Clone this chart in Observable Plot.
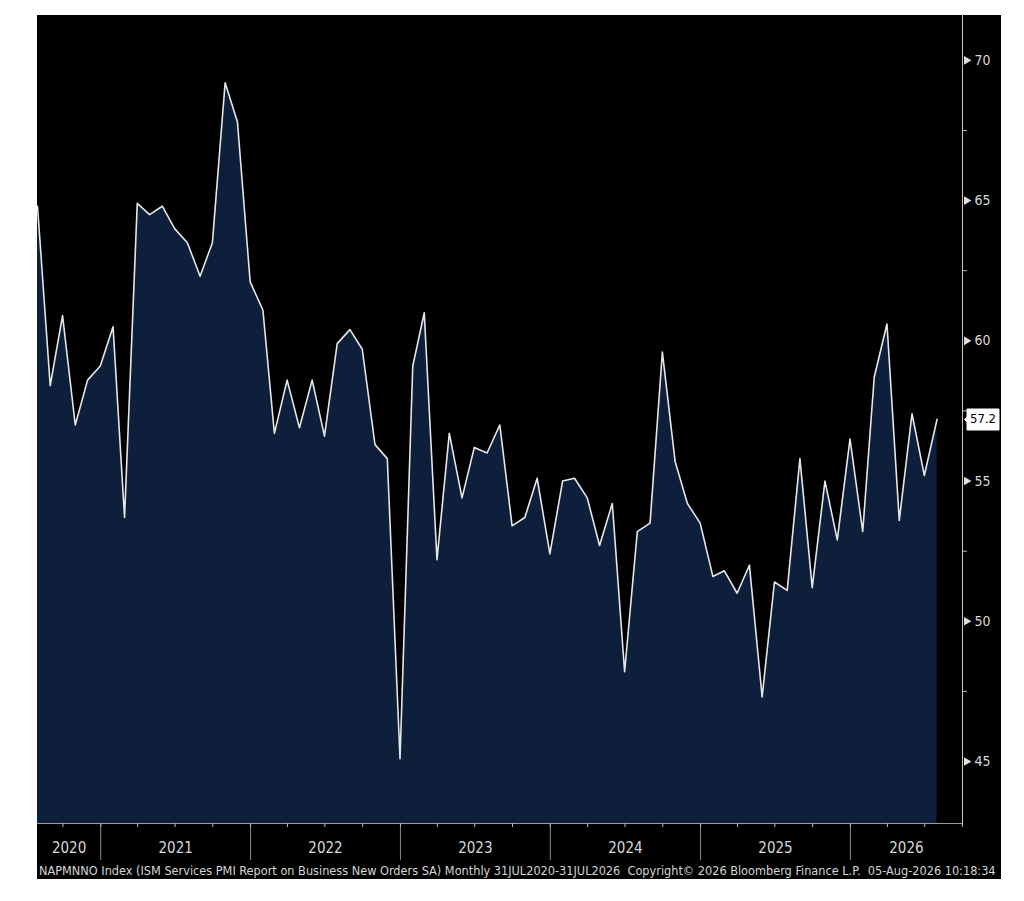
<!DOCTYPE html>
<html>
<head>
<meta charset="utf-8">
<script src="https://cdn.jsdelivr.net/npm/d3@7"></script>
<script src="https://cdn.jsdelivr.net/npm/@observablehq/plot@0.6"></script>
<style>
  html, body { margin: 0; padding: 0; background: #fff; }
  #panel { position: absolute; left: 37px; top: 15px; width: 964px; height: 864px; background: #000; overflow: hidden; }
  #footer { position: absolute; left: 2px; top: 848px; white-space: pre; color: #d4d4d4;
            font-family: "DejaVu Sans Condensed", "DejaVu Sans", sans-serif; font-size: 12.6px; line-height: 15px; }
  g[aria-label="tip"] text { fill: #000 !important; }
</style>
</head>
<body>
<div id="panel"><div id="chart"></div><div id="footer"></div></div>
<script>
// ---- data (monthly, end of month, Jul 2020 – Jul 2026) ----
const startYear = 2020;
const startMonth = 7; // July
const values = [
  64.8, 58.4, 60.9, 57.0, 58.6, 59.1, 60.5, 53.7, 64.9, 64.5, 64.8, 64.0,
  63.5, 62.3, 63.5, 69.2, 67.8, 62.1, 61.1, 56.7, 58.6, 56.9, 58.6, 56.6,
  59.9, 60.4, 59.7, 56.3, 55.8, 45.1, 59.1, 61.0, 52.2, 56.7, 54.4, 56.2,
  56.0, 57.0, 53.4, 53.7, 55.1, 52.4, 55.0, 55.1, 54.4, 52.7, 54.2, 48.2,
  53.2, 53.5, 59.6, 55.7, 54.2, 53.5, 51.6, 51.8, 51.0, 52.0, 47.3, 51.4,
  51.1, 55.8, 51.2, 55.0, 52.9, 56.5, 53.2, 58.7, 60.6, 53.6, 57.4, 55.2,
  57.2
];
const years = [2020, 2021, 2022, 2023, 2024, 2025, 2026];
const yMajorTicks = [45, 50, 55, 60, 65, 70];
const yMinorTicks = [47.5, 52.5, 57.5, 62.5, 67.5];
const yDomain = [42.79, 71.6];
const xDomainDates = ["2020-07-31", "2026-10-01"];
const footerText = "NAPMNNO Index (ISM Services PMI Report on Business New Orders SA) Monthly 31JUL2020-31JUL2026  Copyright\u00A9 2026 Bloomberg Finance L.P.  05-Aug-2026 10:18:34";

// ---- build table ----
const data = values.map((v, i) => ({
  date: new Date(Date.UTC(startYear, startMonth - 1 + i + 1, 0)),
  value: v
}));
const xDomain = xDomainDates.map(s => new Date(s + "T00:00:00Z"));
const yearLabels = years.map(y => {
  const s = Math.max(Date.UTC(y, 0, 1), +xDomain[0]);
  const e = Math.min(Date.UTC(y + 1, 0, 1), +xDomain[1]);
  return {mid: new Date((s + e) / 2), label: String(y)};
});
const last = data[data.length - 1];

const fontFam = "'DejaVu Sans Condensed', 'DejaVu Sans', sans-serif";

const chart = Plot.plot({
  width: 964,
  height: 850,
  marginLeft: 0,
  marginRight: 39,
  marginTop: 0,
  marginBottom: 42,
  style: {background: "#000", color: "#d8d8d8", fontFamily: fontFam, overflow: "visible"},
  x: {type: "utc", domain: xDomain},
  y: {domain: yDomain},
  marks: [
    Plot.areaY(data, {x: "date", y1: yDomain[0], y2: "value", fill: "#0d1f3b"}),
    Plot.lineY(data, {x: "date", y: "value", stroke: "#e6e6e6", strokeWidth: 1.6}),
    Plot.ruleY([yDomain[0]], {stroke: "#9a9a9a", strokeWidth: 1}),
    Plot.ruleX([xDomain[1]], {stroke: "#c8c8c8", strokeWidth: 1}),
    Plot.axisX({ticks: d3.utcYear.every(1), tickSize: 37, tickFormat: () => "", stroke: "#8a8a8a", label: null}),
    Plot.axisX({ticks: d3.utcMonth.every(3), tickSize: 4, tickFormat: () => "", stroke: "#bbbbbb", label: null}),
    Plot.text(yearLabels, {x: "mid", text: "label", frameAnchor: "bottom", dy: 29, fontSize: 15, fill: "#d8d8d8"}),
    Plot.axisY({anchor: "right", ticks: yMinorTicks, tickSize: 4, tickFormat: () => "", stroke: "#bbbbbb", label: null}),
    Plot.axisY({anchor: "right", ticks: yMajorTicks, tickSize: 0, tickPadding: 12, fontSize: 14, fill: "#d8d8d8", label: null}),
    Plot.dot(yMajorTicks, {y: d => d, frameAnchor: "right", symbol: "triangle", rotate: 90, r: 3.2, dx: 4, fill: "#e0e0e0", stroke: null}),
    Plot.tip([last], {
      y: "value", frameAnchor: "right", anchor: "left", dx: 2,
      title: d => d.value.toFixed(1),
      fill: "#fff", stroke: "#fff", pathFilter: "none",
      pointerSize: 5, textPadding: 3, fontSize: 13, fontFamily: fontFam
    })
  ]
});
document.getElementById("chart").appendChild(chart);
document.getElementById("footer").textContent = footerText;
</script>
</body>
</html>
